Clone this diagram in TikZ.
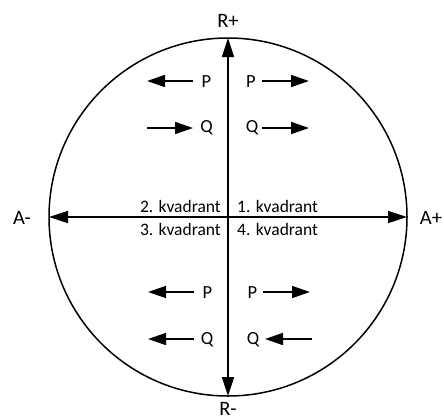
\documentclass[tikz,border=0pt]{standalone}
\usepackage{fontspec}
\setmainfont{Carlito}
\usetikzlibrary{arrows.meta}
\begin{document}
\begin{tikzpicture}[x=1pt,y=-1pt,
  axis/.style={line width=1.6pt,{Triangle[length=19pt,width=12pt]}-{Triangle[length=19pt,width=12pt]}},
  small/.style={line width=1.6pt,-{Triangle[length=18pt,width=12pt]}},
  quad/.style={font=\fontsize{17.5}{20}\selectfont,inner sep=0pt},
  pq/.style={font=\fontsize{18.5}{21}\selectfont,inner sep=0pt,anchor=base},
  axlbl/.style={font=\fontsize{20.5}{23}\selectfont,inner sep=0pt}]
\useasboundingbox (0,0) rectangle (444,416);
\node[circle,draw,line width=1.5pt,minimum size=358pt,inner sep=0pt,outer sep=0pt] (C) at (228,217) {};
\draw[axis] (C.north) -- (C.south);
\draw[axis] (C.west) -- (C.east);
\node[axlbl] (rp) at (228,21) {R+};
\node[axlbl] (rm) at (228,409) {R-};
\node[axlbl] (am) at (22,218) {A-};
\node[axlbl] (ap) at (431,218) {A+};
\node[quad,anchor=base east] (q2) at (221,212) {2. kvadrant};
\node[quad,anchor=base east] (q3) at (221,235) {3. kvadrant};
\node[quad,anchor=base west] (q1) at (237,212) {1. kvadrant};
\node[quad,anchor=base west] (q4) at (237,235) {4. kvadrant};
% upper labels
\node[pq] (p1) at (206.5,87) {P};
\node[pq] (p2) at (251,87) {P};
\node[pq] (k1) at (206.5,132) {Q};
\node[pq] (k2) at (252,132) {Q};
% lower labels
\node[pq] (p3) at (207.5,298) {P};
\node[pq] (p4) at (252.5,298) {P};
\node[pq] (k3) at (207,344) {Q};
\node[pq] (k4) at (253,344) {Q};
% arrow coordinates
\coordinate (a1s) at (193,81); \coordinate (a1e) at (147,81);
\coordinate (a2s) at (262,81); \coordinate (a2e) at (309,81);
\coordinate (a3s) at (147,128); \coordinate (a3e) at (193,128);
\coordinate (a4s) at (262,128); \coordinate (a4e) at (309,128);
\coordinate (a5s) at (194,292); \coordinate (a5e) at (148,292);
\coordinate (a6s) at (263,292); \coordinate (a6e) at (310,292);
\coordinate (a7s) at (194,339); \coordinate (a7e) at (148,339);
\coordinate (a8s) at (312,339); \coordinate (a8e) at (265,339);
\draw[small] (a1s) -- (a1e);
\draw[small] (a2s) -- (a2e);
\draw[small] (a3s) -- (a3e);
\draw[small] (a4s) -- (a4e);
\draw[small] (a5s) -- (a5e);
\draw[small] (a6s) -- (a6e);
\draw[small] (a7s) -- (a7e);
\draw[small] (a8s) -- (a8e);
\end{tikzpicture}
\end{document}
